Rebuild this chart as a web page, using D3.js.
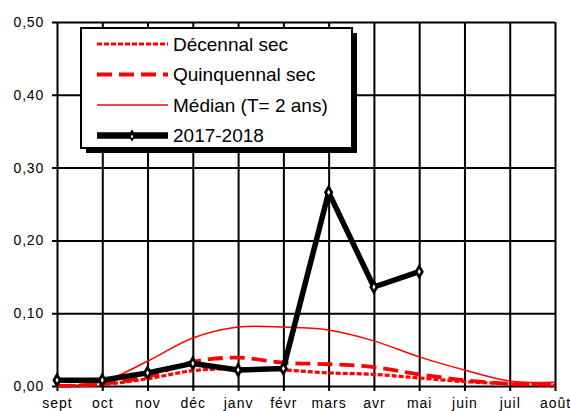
<!DOCTYPE html>
<html>
<head>
<meta charset="utf-8">
<script src="https://cdn.jsdelivr.net/npm/d3@7"></script>
<style>
  body { margin: 0; background: #fff; }
  text { font-family: "Liberation Sans", Arial, sans-serif; }
</style>
</head>
<body>
<div id="chart"></div>
<script>
var months = ["sept", "oct", "nov", "déc", "janv", "févr", "mars", "avr", "mai", "juin", "juil", "août"];
var yTicks = [0, 0.1, 0.2, 0.3, 0.4, 0.5];

var decennal    = [0.000, 0.002, 0.010, 0.021, 0.024, 0.022, 0.018, 0.016, 0.011, 0.006, 0.003, 0.001];
var quinquennal = [0.000, 0.003, 0.013, 0.033, 0.039, 0.032, 0.030, 0.026, 0.016, 0.008, 0.003, 0.002];
var median      = [0.000, 0.006, 0.034, 0.066, 0.081, 0.081, 0.077, 0.062, 0.040, 0.022, 0.007, 0.005];
var annee       = [0.008, 0.008, 0.018, 0.031, 0.022, 0.024, 0.266, 0.136, 0.157];

var series = [
  { name: "Décennal sec", values: decennal, color: "red", width: 3.2, dash: "5,2", smooth: true },
  { name: "Quinquennal sec", values: quinquennal, color: "red", width: 3.8, dash: "15,7", smooth: true },
  { name: "Médian (T= 2 ans)", values: median, color: "red", width: 1.5, dash: null, smooth: true },
  { name: "2017-2018", values: annee, color: "black", width: 5.5, dash: null, smooth: false, marker: true }
];

var width = 571, height = 411;
var m = { left: 57, right: 555, top: 22, bottom: 386 };

var svg = d3.select("#chart").append("svg")
    .attr("width", width)
    .attr("height", height);

var x = d3.scalePoint().domain(months).range([m.left, m.right]);
var y = d3.scaleLinear().domain([0, 0.5]).range([m.bottom, m.top]);

// grid + axes
var yAxis = svg.append("g")
    .attr("transform", "translate(" + m.left + ",0)")
    .call(d3.axisLeft(y).tickValues(yTicks).tickSize(-(m.right - m.left))
      .tickFormat(function(d){ return d3.format(".2f")(d).replace(".", ","); }));
yAxis.select(".domain").remove();
yAxis.selectAll("line").attr("x1", -5).attr("stroke", "#000").attr("stroke-width", 2);
yAxis.selectAll("text").attr("x", -13).attr("font-size", 14).attr("letter-spacing", 0.8).attr("fill", "#000");

var xAxis = svg.append("g")
    .attr("transform", "translate(0," + m.bottom + ")")
    .call(d3.axisBottom(x).tickSize(-(m.bottom - m.top)));
xAxis.select(".domain").remove();
xAxis.selectAll("line").attr("y1", 5).attr("stroke", "#000").attr("stroke-width", 2);
xAxis.selectAll("text").attr("y", 12).attr("dy", "0.71em").attr("font-size", 14).attr("letter-spacing", 1).attr("fill", "#000");

// series
series.forEach(function(s){
  var line = d3.line()
      .x(function(d, i){ return x(months[i]); })
      .y(function(d){ return y(d); })
      .curve(s.smooth ? d3.curveCatmullRom.alpha(0.5) : d3.curveLinear);
  svg.append("path")
      .datum(s.values)
      .attr("d", line)
      .attr("fill", "none")
      .attr("stroke", s.color)
      .attr("stroke-width", s.width)
      .attr("stroke-dasharray", s.dash)
      .attr("stroke-linejoin", "round");
  if (s.marker) {
    var mk = svg.selectAll(".mk").data(s.values).enter().append("g")
        .attr("class", "mk")
        .attr("transform", function(d, i){ return "translate(" + x(months[i]) + "," + y(d) + ")"; });
    mk.append("path")
        .attr("d", d3.symbol(d3.symbolDiamond, 75))
        .attr("fill", "#000");
    mk.append("path")
        .attr("d", d3.symbol(d3.symbolDiamond, 8))
        .attr("fill", "#fff");
  }
});

// legend
var lg = svg.append("g");
lg.append("rect").attr("x", 86).attr("y", 33).attr("width", 271).attr("height", 120).attr("fill", "#000");
lg.append("rect").attr("x", 81).attr("y", 28).attr("width", 271).attr("height", 120)
    .attr("fill", "#fff").attr("stroke", "#000").attr("stroke-width", 2);

series.forEach(function(s, i){
  var ly = 44 + i * 30.5;
  lg.append("line")
      .attr("x1", 97).attr("x2", 168).attr("y1", ly).attr("y2", ly)
      .attr("stroke", s.color)
      .attr("stroke-width", s.width + (s.marker ? 1 : 0))
      .attr("stroke-dasharray", s.dash);
  if (s.marker) {
    lg.append("path")
        .attr("transform", "translate(132," + ly + ")")
        .attr("d", d3.symbol(d3.symbolDiamond, 45))
        .attr("fill", "#000");
    lg.append("path")
        .attr("transform", "translate(132," + (ly + 1) + ")")
        .attr("d", d3.symbol(d3.symbolDiamond, 5))
        .attr("fill", "#fff");
  }
  lg.append("text")
      .attr("x", 173).attr("y", ly).attr("dy", "0.35em")
      .attr("font-size", 19)
      .text(s.name);
});
</script>
</body>
</html>
